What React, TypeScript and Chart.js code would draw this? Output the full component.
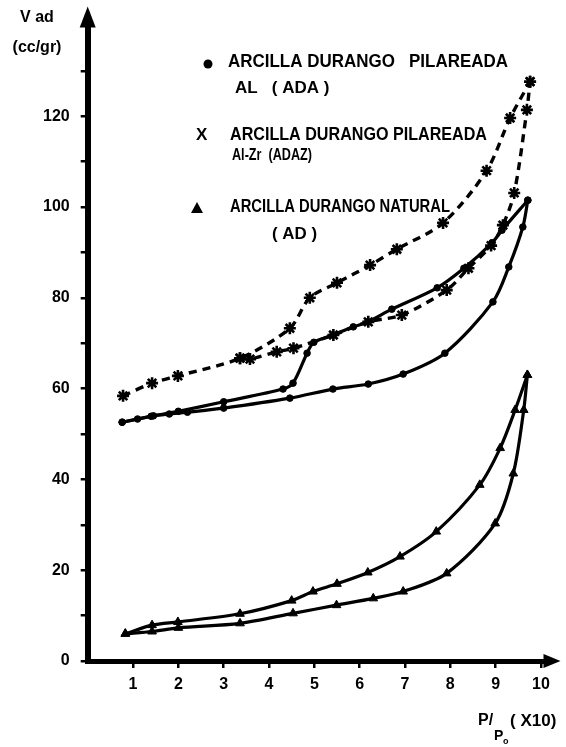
import React, { useEffect, useRef } from "react";
import { Chart, registerables } from "chart.js";

Chart.register(...registerables);

// ---- axis ticks ----
const xTickValues = [1, 2, 3, 4, 5, 6, 7, 8, 9, 10];
const yTickValues = [0, 10, 20, 30, 40, 50, 60, 70, 80, 90, 100, 110, 120, 130];
const yLabelledTicks = [0, 20, 40, 60, 80, 100, 120];

// ---- ADA : Arcilla Durango pilareada Al (dots, solid) ----
const adaAdsX = [0.76, 1.1, 1.45, 1.8, 2.2, 3.0, 4.46, 5.41, 6.19, 6.96, 7.88, 8.94, 9.29, 9.6, 9.71];
const adaAdsY = [52.6, 53.3, 54.0, 54.4, 54.8, 55.7, 57.9, 59.9, 61.0, 63.2, 67.8, 79.1, 86.8, 95.6, 101.5];
const adaDesX = [0.76, 1.4, 2.0, 3.0, 4.31, 4.53, 4.84, 4.99, 5.41, 5.86, 6.18, 6.71, 7.71, 8.3, 8.92, 9.14, 9.71];
const adaDesY = [52.6, 53.9, 55.0, 57.1, 59.9, 61.2, 67.8, 70.2, 71.8, 73.6, 74.7, 77.5, 82.2, 86.5, 92.1, 94.9, 101.5];

// ---- ADAZ : Arcilla Durango pilareada Al-Zr (stars, dashed) ----
const adazUpX = [0.78, 1.42, 1.99, 3.36, 4.46, 4.9, 5.5, 6.23, 6.82, 7.84, 8.8, 9.32, 9.76];
const adazUpY = [58.4, 61.2, 62.8, 66.7, 73.3, 80.0, 83.3, 87.2, 90.7, 96.5, 108.0, 119.6, 127.6];
const adazLowX = [3.36, 3.58, 4.17, 4.54, 5.42, 6.19, 6.93, 7.92, 8.4, 8.9, 9.16, 9.41, 9.69, 9.76];
const adazLowY = [66.7, 66.5, 68.1, 68.9, 71.8, 74.7, 76.2, 81.7, 86.5, 91.5, 96.0, 103.1, 121.4, 127.6];

// ---- AD : Arcilla Durango natural (triangles, solid) ----
const adDesX = [0.83, 1.42, 1.99, 3.36, 4.5, 4.97, 5.5, 6.18, 6.89, 7.69, 8.65, 9.1, 9.43, 9.7];
const adDesY = [6.0, 7.9, 8.6, 10.4, 13.3, 15.3, 17.0, 19.5, 23.0, 28.5, 38.8, 46.9, 55.3, 63.0];
const adAdsX = [0.83, 1.42, 2.0, 3.36, 4.53, 5.49, 6.3, 6.96, 7.92, 8.99, 9.39, 9.62, 9.7];
const adAdsY = [6.0, 6.5, 7.3, 8.3, 10.5, 12.3, 13.8, 15.3, 19.3, 30.3, 41.3, 55.3, 63.0];

const pts = (xs: number[], ys: number[]) => xs.map((x, i) => ({ x, y: ys[i] }));

const FONT = '"Liberation Sans", Arial, sans-serif';

const solidDots = (xs: number[], ys: number[]) => ({
  data: pts(xs, ys),
  borderColor: "#000",
  borderWidth: 3.2,
  pointStyle: "circle",
  pointRadius: 3.3,
  pointBackgroundColor: "#000",
  pointBorderColor: "#000",
  pointBorderWidth: 1,
  tension: 0.3,
  fill: false,
});

const dashedStars = (xs: number[], ys: number[]) => ({
  data: pts(xs, ys),
  borderColor: "#000",
  borderWidth: 3.4,
  borderDash: [8, 6],
  pointStyle: "star",
  pointRadius: 6,
  pointBackgroundColor: "#000",
  pointBorderColor: "#000",
  pointBorderWidth: 2.6,
  tension: 0.3,
  fill: false,
});

const solidTriangles = (xs: number[], ys: number[]) => ({
  data: pts(xs, ys),
  borderColor: "#000",
  borderWidth: 3.2,
  pointStyle: "triangle",
  pointRadius: 5,
  pointBackgroundColor: "#000",
  pointBorderColor: "#000",
  pointBorderWidth: 1,
  tension: 0.3,
  fill: false,
});

const decorPlugin = {
  id: "decor",
  afterDraw(chart: any) {
    const ctx = chart.ctx as CanvasRenderingContext2D;
    const { left, right, top, bottom } = chart.chartArea;
    ctx.save();
    ctx.fillStyle = "#000";
    // y axis arrow
    ctx.beginPath();
    ctx.moveTo(left - 8, top + 2);
    ctx.lineTo(left + 8, top + 2);
    ctx.lineTo(left, top - 19);
    ctx.closePath();
    ctx.fill();
    // x axis arrow
    ctx.beginPath();
    ctx.moveTo(right - 2, bottom - 7);
    ctx.lineTo(right - 2, bottom + 7);
    ctx.lineTo(right + 15, bottom);
    ctx.closePath();
    ctx.fill();

    const text = (s: string, x: number, y: number, size: number, maxW?: number, align: CanvasTextAlign = "left") => {
      ctx.font = `bold ${size}px ${FONT}`;
      ctx.textAlign = align;
      ctx.textBaseline = "middle";
      if (maxW) ctx.fillText(s, x, y, maxW);
      else ctx.fillText(s, x, y);
    };

    // y axis title
    text("V ad", 37, 18, 16, 40, "center");
    text("(cc/gr)", 37, 48, 16, 60, "center");

    // x axis title
    text("P/", 478, 721, 16, 20);
    text("P", 494, 736, 14, 10);
    text("o", 503, 742, 9, 6);
    text("( X10)", 510, 721, 17, 53);

    // legend
    ctx.beginPath();
    ctx.arc(208, 64, 4.5, 0, Math.PI * 2);
    ctx.fill();
    text("ARCILLA DURANGO   PILAREADA", 228, 62, 18, 280);
    text("AL   ( ADA )", 235, 88, 17, 110);

    text("X", 196, 135, 17, 13);
    text("ARCILLA DURANGO PILAREADA", 230, 135, 18, 257);
    text("Al-Zr  (ADAZ)", 232, 155, 17, 80);

    ctx.beginPath();
    ctx.moveTo(191, 213);
    ctx.lineTo(203, 213);
    ctx.lineTo(197, 202);
    ctx.closePath();
    ctx.fill();
    text("ARCILLA DURANGO NATURAL", 230, 207.5, 18, 220);
    text("( AD )", 272, 234, 17, 45);

    ctx.restore();
  },
};

export default function App() {
  const ref = useRef<HTMLCanvasElement | null>(null);

  useEffect(() => {
    if (!ref.current) return;
    const chart = new Chart(ref.current, {
      type: "line",
      data: {
        datasets: [
          solidDots(adaAdsX, adaAdsY),
          solidDots(adaDesX, adaDesY),
          dashedStars(adazUpX, adazUpY),
          dashedStars(adazLowX, adazLowY),
          solidTriangles(adDesX, adDesY),
          solidTriangles(adAdsX, adAdsY),
        ] as any,
      },
      options: {
        responsive: false,
        animation: false,
        devicePixelRatio: 1,
        layout: { padding: { left: 0, right: 20.5, top: 25.4, bottom: 0 } },
        plugins: {
          legend: { display: false },
          tooltip: { enabled: false },
          title: { display: false },
        },
        scales: {
          x: {
            type: "linear",
            min: 0,
            max: 10.1,
            afterFit: (axis: any) => {
              axis.height = 86;
            },
            afterBuildTicks: (axis: any) => {
              axis.ticks = xTickValues.map((v) => ({ value: v }));
            },
            border: { display: true, color: "#000", width: 5 },
            grid: {
              display: true,
              drawOnChartArea: false,
              drawTicks: true,
              tickLength: 7,
              color: "#000",
              lineWidth: 2.5,
            },
            ticks: {
              color: "#000",
              padding: 7,
              autoSkip: false,
              maxRotation: 0,
              font: { family: FONT, weight: "bold", size: 16 },
              callback: (v: any) => String(v),
            },
          },
          y: {
            type: "linear",
            min: 0,
            max: 140,
            afterFit: (axis: any) => {
              axis.width = 87.7;
            },
            afterBuildTicks: (axis: any) => {
              axis.ticks = yTickValues.map((v) => ({ value: v }));
            },
            border: { display: true, color: "#000", width: 6 },
            grid: {
              display: true,
              drawOnChartArea: false,
              drawTicks: true,
              tickLength: 7,
              color: "#000",
              lineWidth: 2.5,
            },
            ticks: {
              color: "#000",
              padding: 11,
              autoSkip: false,
              font: { family: FONT, weight: "bold", size: 16 },
              callback: (v: any) => (yLabelledTicks.includes(Number(v)) ? String(v) : ""),
            },
          },
        },
      } as any,
      plugins: [decorPlugin],
    });
    return () => chart.destroy();
  }, []);

  return (
    <div style={{ position: "fixed", left: 0, top: 0, width: 566, height: 747, background: "#fff" }}>
      <canvas ref={ref} width={566} height={747} style={{ display: "block", width: 566, height: 747 }} />
    </div>
  );
}
